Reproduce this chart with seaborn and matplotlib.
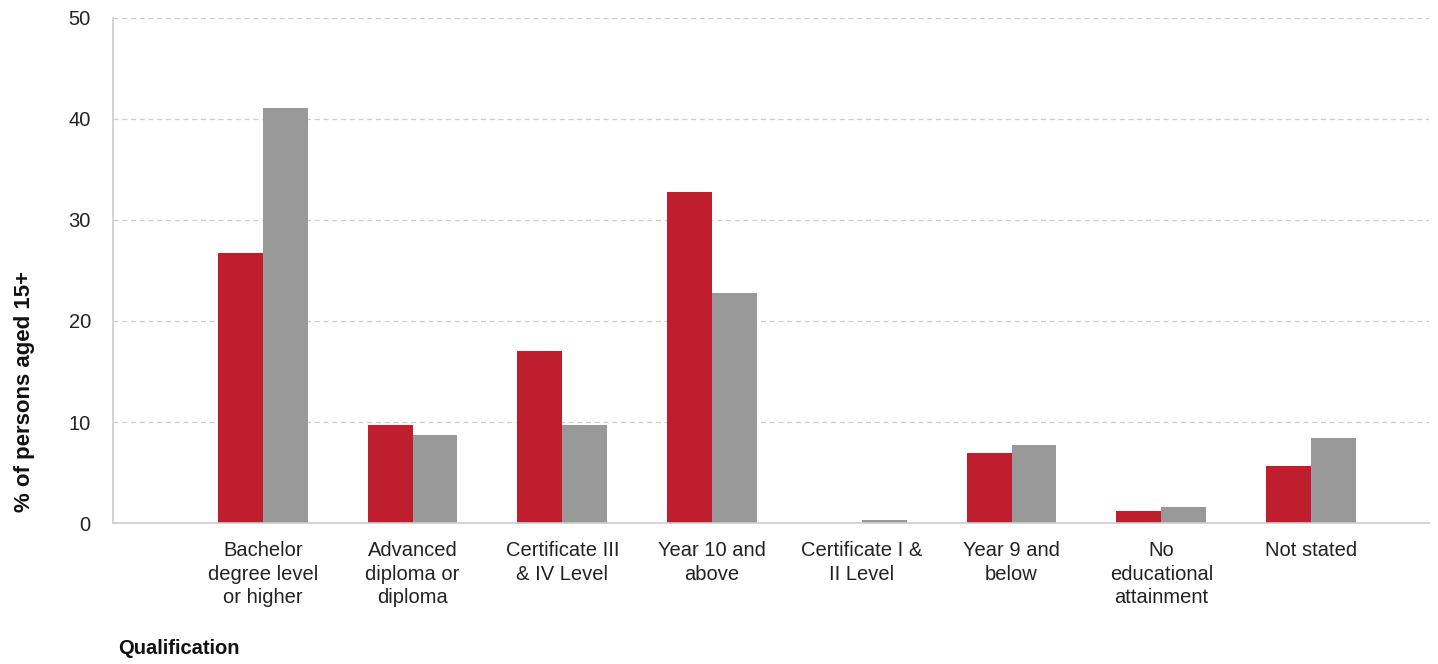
import pandas as pd
import matplotlib
matplotlib.use('Agg')
import matplotlib.pyplot as plt
import seaborn as sns

categories = [
    "Bachelor\ndegree level\nor higher",
    "Advanced\ndiploma or\ndiploma",
    "Certificate III\n& IV Level",
    "Year 10 and\nabove",
    "Certificate I &\nII Level",
    "Year 9 and\nbelow",
    "No\neducational\nattainment",
    "Not stated",
]
series_names = ["Area", "Comparison"]
area_values = [26.7, 9.7, 17.0, 32.8, 0.0, 6.9, 1.2, 5.6]
comparison_values = [41.1, 8.7, 9.7, 22.8, 0.3, 7.7, 1.6, 8.4]
y_ticks = [0, 10, 20, 30, 40, 50]

df = pd.DataFrame({
    'Qualification': categories * 2,
    'Series': [series_names[0]] * len(categories) + [series_names[1]] * len(categories),
    'Value': area_values + comparison_values,
})

sns.set_style('white')
plt.rcParams['font.family'] = ['Liberation Sans', 'DejaVu Sans']

fig = plt.figure(figsize=(14.38, 6.64), dpi=100)
ax = fig.add_axes([0.0786, 0.2123, 0.9154, 0.7607])

# leading empty slot so the first group sits one step away from the axis
order = [""] + categories
sns.barplot(data=df, x='Qualification', y='Value', hue='Series', order=order,
            palette=['#BE1E2D', '#999999'], saturation=1, width=0.6, linewidth=0,
            legend=False, ax=ax)

ax.set_xlim(0, 8.79)
ax.set_ylim(0, 50)
ax.set_yticks(y_ticks)
ax.set_xticks(range(len(order)))
ax.set_xticklabels(order, fontsize=14.5, color='#222222', linespacing=1.3)
ax.tick_params(axis='y', labelsize=14.5, labelcolor='#222222', length=12,
               color='#cccccc', width=1, pad=4)
ax.tick_params(axis='x', length=5, color='#cccccc', width=1, pad=8, direction='out')
ax.grid(axis='y', linestyle=(0, (4, 3)), color='#cccccc', linewidth=0.9)
ax.set_axisbelow(True)

for side in ['top', 'right']:
    ax.spines[side].set_visible(False)
for side in ['left', 'bottom']:
    ax.spines[side].set_color('#cccccc')
    ax.spines[side].set_linewidth(1.2)

ax.set_xlabel('')
ax.set_ylabel('% of persons aged 15+', fontsize=16, fontweight='bold', color='#111111')
ax.yaxis.set_label_coords(-0.059, 0.26)

fig.text(118 / 1438, 1 - 649 / 664, 'Qualification', fontsize=14.5, fontweight='bold',
         color='#111111', va='center', ha='left')

plt.savefig('out.png', dpi=100)
